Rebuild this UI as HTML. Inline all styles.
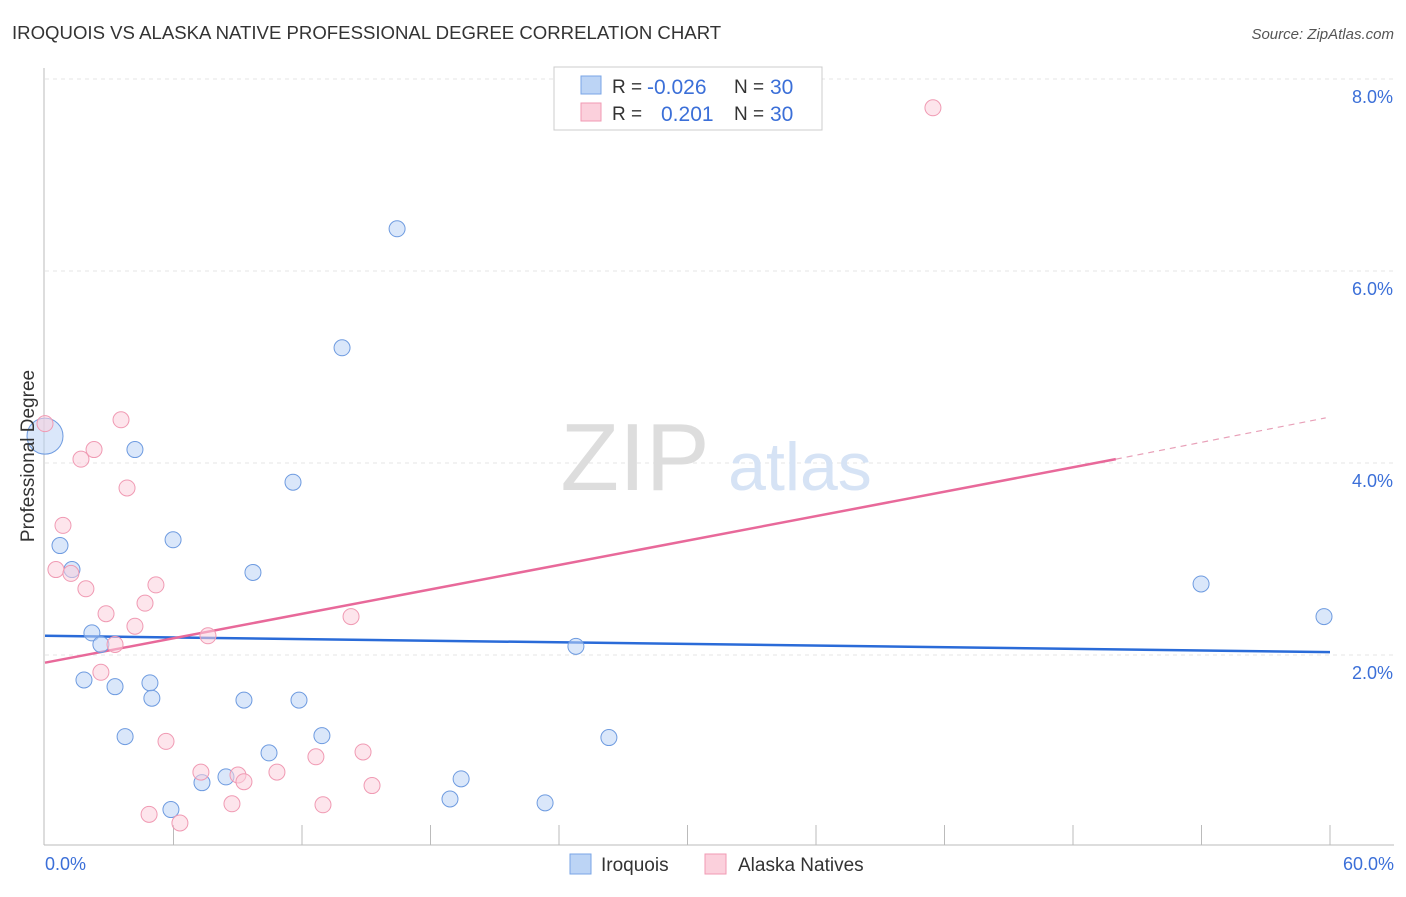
<!DOCTYPE html>
<html><head><meta charset="utf-8"><style>
body{margin:0;background:#fff;font-family:"Liberation Sans",sans-serif}
svg text{font-family:"Liberation Sans",sans-serif}
</style></head><body>
<svg width="1406" height="892" viewBox="0 0 1406 892">
<text x="12" y="39" font-size="18.6" fill="#333">IROQUOIS VS ALASKA NATIVE PROFESSIONAL DEGREE CORRELATION CHART</text>
<text x="1394" y="39" font-size="15" fill="#555" text-anchor="end" font-style="italic">Source: ZipAtlas.com</text>
<g id="grid"></g>
<text x="635" y="490" font-size="96" fill="#ddd" text-anchor="middle" font-family="Liberation Serif">ZIP</text>
<text x="800" y="490" font-size="68" fill="#d6e3f5" text-anchor="middle">atlas</text>
<g id="axes"></g>
<g id="lines"></g>
<g id="points"></g>
<text transform="translate(34,456) rotate(-90)" font-size="19" fill="#333" text-anchor="middle">Professional Degree</text>
<text x="45" y="870" font-size="18" fill="#3b6fd8">0.0%</text>
<text x="1394" y="870" font-size="18" fill="#3b6fd8" text-anchor="end">60.0%</text>
<g>
<rect x="554" y="67" width="268" height="63" fill="#fff" stroke="#ccc"/>
<rect x="581" y="76" width="20" height="18" fill="#bcd4f5" stroke="#7aa5e6"/>
<text x="612" y="93" font-size="19" fill="#333">R =</text><text x="647" y="94" font-size="21" fill="#3b6fd8">-0.026</text>
<text x="734" y="93" font-size="19" fill="#333">N =</text><text x="770" y="94" font-size="21" fill="#3b6fd8">30</text>
<rect x="581" y="103" width="20" height="18" fill="#fbd0dc" stroke="#f09ab3"/>
<text x="612" y="120" font-size="19" fill="#333">R =</text><text x="661" y="121" font-size="21" fill="#3b6fd8">0.201</text>
<text x="734" y="120" font-size="19" fill="#333">N =</text><text x="770" y="121" font-size="21" fill="#3b6fd8">30</text>
</g>
<g>
<rect x="570" y="854" width="21" height="20" fill="#bcd4f5" stroke="#7aa5e6"/>
<text x="601" y="871" font-size="19" fill="#333">Iroquois</text>
<rect x="705" y="854" width="21" height="20" fill="#fbd0dc" stroke="#f09ab3"/>
<text x="738" y="871" font-size="19" fill="#333">Alaska Natives</text>
</g>
</svg>
<script>
const yTicks=[2,4,6,8];
const yTickLabels=["2.0%","4.0%","6.0%","8.0%"];
const xTicks=[6,12,18,24,30,36,42,48,54,60];
const blueX=[0,0.70,1.26,2.19,2.61,1.82,3.27,3.74,4.20,4.90,4.99,5.98,5.88,7.33,8.45,9.29,9.71,10.46,11.58,11.86,12.93,13.87,16.44,18.91,19.43,23.35,24.79,26.33,53.98,59.72];
const blueY=[4.28,3.14,2.89,2.23,2.11,1.74,1.67,1.15,4.14,1.71,1.55,3.20,0.39,0.67,0.73,1.53,2.86,0.98,3.80,1.53,1.16,5.20,6.44,0.50,0.71,0.46,2.09,1.14,2.74,2.40];
const pinkX=[0,0.84,0.51,1.21,1.68,1.91,2.29,2.61,2.85,3.27,3.55,3.83,4.20,4.67,4.86,5.18,5.65,6.30,7.28,7.61,8.73,9.01,9.29,10.83,12.65,12.98,14.29,14.85,15.27,41.46];
const pinkY=[4.41,3.35,2.89,2.85,4.04,2.69,4.14,1.82,2.43,2.11,4.45,3.74,2.30,2.54,0.34,2.73,1.10,0.25,0.78,2.20,0.45,0.75,0.68,0.78,0.94,0.44,2.40,0.99,0.64,7.70];
const blueTrend=[[0,2.20],[60,2.03]];
const pinkTrend=[[0,1.92],[50,4.04]];
const pinkTrendExt=[[50,4.04],[59.8,4.47]];
const X=v=>45+v/60*1285, Y=v=>847-v*96;
const NS="http://www.w3.org/2000/svg";
function mk(tag,attrs,parent){const e=document.createElementNS(NS,tag);for(const k in attrs)e.setAttribute(k,attrs[k]);document.getElementById(parent).appendChild(e);return e;}
yTicks.forEach((t,i)=>{
 const l=mk('line',{x1:45,x2:1394,y1:Y(t),y2:Y(t),stroke:'#e4e4e4','stroke-dasharray':'4,4'},'grid');
 
 
 const tx=mk('text',{x:1393,y:Y(t)+24,'font-size':18,fill:'#3b6fd8','text-anchor':'end'},'grid');
 tx.textContent=yTickLabels[i];
 
 
});
const ax=mk('line',{x1:44,x2:44,y1:68,y2:845,stroke:'#bbb'},'axes');


const bx=mk('line',{x1:44,x2:1394,y1:845,y2:845,stroke:'#bbb'},'axes');


xTicks.forEach(t=>{
 const l=mk('line',{x1:X(t),x2:X(t),y1:825,y2:845,stroke:'#bbb'},'axes');
 
 
});
function drawPts(xs,ys,fill,stroke,name){
 xs.forEach((x,i)=>{
  const r=(name==='iroquois-point'&&i===0)?18:8;
  const c=mk('circle',{cx:X(x),cy:Y(ys[i]),r:r,fill:fill,stroke:stroke,'stroke-width':1,'fill-opacity':0.55},'points');
  
  
 });
}
drawPts(blueX,blueY,'#bcd4f5','#6e9be0','iroquois-point');
drawPts(pinkX,pinkY,'#fbd0dc','#f09ab3','alaska-native-point');
function ln(p,stroke,w,dash,name){
 const l=mk('line',{x1:X(p[0][0]),y1:Y(p[0][1]),x2:X(p[1][0]),y2:Y(p[1][1]),stroke:stroke,'stroke-width':w},'lines');
 if(dash)l.setAttribute('stroke-dasharray',dash);
 
 
}
ln(blueTrend,'#2a6bd8',2.5,null,'iroquois-trendline');
ln(pinkTrend,'#e8699a',2.5,null,'alaska-natives-trendline');
ln(pinkTrendExt,'#e8a0b8',1.2,'6,5','alaska-natives-trendline-extension');
</script>
</body></html>
